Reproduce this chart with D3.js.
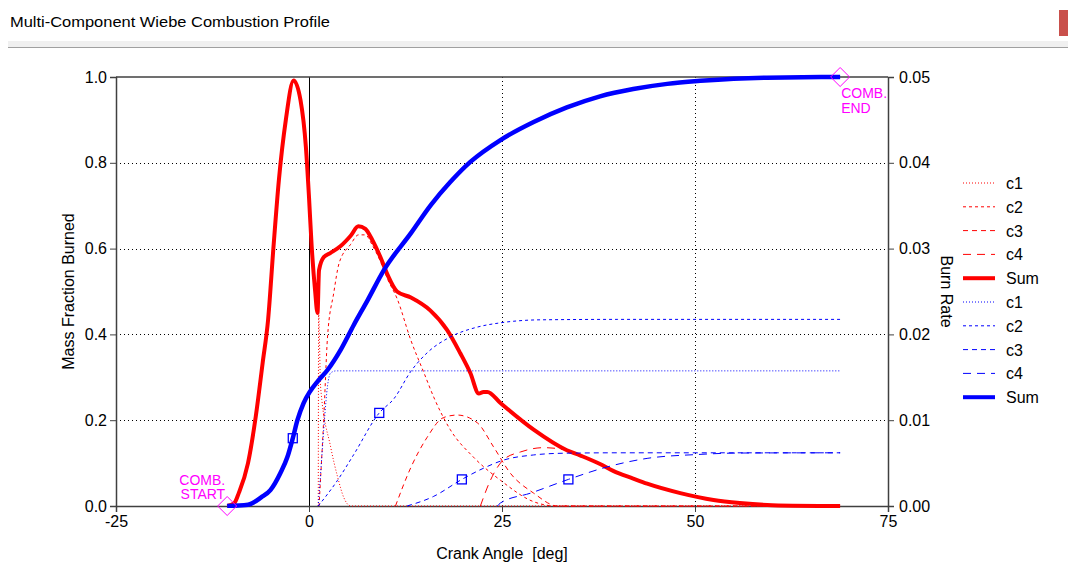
<!DOCTYPE html>
<html>
<head>
<meta charset="utf-8">
<script src="https://cdn.jsdelivr.net/npm/d3@7"></script>
<style>
  html, body { margin: 0; padding: 0; background: #ffffff; }
  svg { display: block; }
  text { font-family: "Liberation Sans", Arial, sans-serif; white-space: pre; }
</style>
</head>
<body>
<svg id="chart" width="1068" height="579"></svg>
<script>
// ---------------- DATA ----------------
const chartTitle = "Multi-Component Wiebe Combustion Profile";
const xTicks = [-25, 0, 25, 50, 75];
const xTickLabels = ["-25", "0", "25", "50", "75"];
const yLeftTicks = [0, 0.2, 0.4, 0.6, 0.8, 1.0];
const yLeftTickLabels = ["0.0", "0.2", "0.4", "0.6", "0.8", "1.0"];
const yRightTicks = [0, 0.01, 0.02, 0.03, 0.04, 0.05];
const yRightTickLabels = ["0.00", "0.01", "0.02", "0.03", "0.04", "0.05"];
const legendLabels = ["c1", "c2", "c3", "c4", "Sum", "c1", "c2", "c3", "c4", "Sum"];

// Burn rate (right axis) – [crank angle deg, rate]
const rateSum = [
  [-10.6, 0], [-9.7, 0.0003], [-9.1, 0.0015], [-7.9, 0.005], [-6.9, 0.0104], [-6.0, 0.0167],
  [-5.3, 0.0217], [-4.6, 0.0302], [-3.9, 0.038], [-3.0, 0.045], [-2.0, 0.0496], [-1.1, 0.0473],
  [-0.4, 0.0418], [0.0, 0.036], [0.35, 0.0302], [0.8, 0.025], [1.1, 0.0225], [1.3, 0.0275],
  [1.9, 0.029], [2.8, 0.0295], [4.1, 0.0303], [5.4, 0.0315], [6.4, 0.0326], [7.3, 0.0323],
  [8.2, 0.031], [9.3, 0.0289], [10.2, 0.0269], [11.4, 0.025], [13.2, 0.0243], [15.7, 0.0228],
  [17.9, 0.0205], [19.6, 0.0178], [20.9, 0.0155], [22.0, 0.0131], [22.6, 0.0133], [23.1, 0.0133],
  [24.8, 0.012], [29.1, 0.0089], [33.4, 0.0065], [35.1, 0.0059], [37.7, 0.0049], [39.4, 0.0041],
  [42.0, 0.0032], [43.8, 0.0026], [48.1, 0.0015], [52.4, 0.0007], [55.8, 0.00035], [60.0, 0.0001],
  [68.8, 0]
];
const rateC1 = [
  [1.2, 0], [1.25, 0.0225], [1.5, 0.0139], [2.8, 0.0069], [3.7, 0.0034], [4.5, 0.001],
  [5.4, 0], [68.8, 0]
];
const rateC2 = [
  [1.3, 0], [1.9, 0.01], [2.4, 0.0197], [3.2, 0.0248], [3.9, 0.0283], [5.4, 0.0305],
  [6.4, 0.0316], [7.3, 0.0316], [8.2, 0.0304], [9.3, 0.0284], [10.2, 0.0264], [11.4, 0.0242],
  [13.2, 0.0193], [14.9, 0.0155], [16.2, 0.0126], [18.3, 0.0089], [21.3, 0.0057], [24.8, 0.003],
  [29.1, 0.0005], [32.0, 0], [68.8, 0]
];
const rateC3 = [
  [11.2, 0], [13.2, 0.0045], [15.3, 0.008], [17.4, 0.0103], [19.2, 0.0106], [21.8, 0.0097],
  [23.9, 0.0069], [26.1, 0.0038], [29.1, 0.0015], [32.2, 0], [68.8, 0]
];
const rateC4 = [
  [22.2, 0], [23.5, 0.003], [25.2, 0.0054], [27.4, 0.0063], [30.4, 0.0068], [33.4, 0.0065],
  [35.1, 0.0059], [37.7, 0.0049], [39.4, 0.0041], [42.0, 0.0032], [43.8, 0.0026], [48.1, 0.0015],
  [52.4, 0.0007], [55.8, 0.00035], [60.0, 0.0001], [68.8, 0]
];

// Mass fraction burned (left axis) – [crank angle deg, fraction]
const mfbSum = [
  [-10.6, 0], [-7.9, 0.003], [-6.2, 0.02], [-5.0, 0.037], [-3.7, 0.077], [-2.8, 0.114],
  [-2.1, 0.158], [-1.5, 0.2], [-0.7, 0.24], [0.1, 0.266], [1.1, 0.29], [2.4, 0.317],
  [4.1, 0.364], [5.8, 0.422], [7.6, 0.48], [9.7, 0.55], [13.2, 0.636], [15.8, 0.702],
  [18.3, 0.755], [20.9, 0.802], [24.8, 0.853], [29.1, 0.895], [33.4, 0.929], [37.7, 0.955],
  [42.0, 0.972], [46.4, 0.984], [50.7, 0.991], [55.0, 0.996], [59.3, 0.9985], [68.8, 1.0]
];
const mfbC1 = [
  [1.2, 0], [1.6, 0.1], [2.0, 0.2], [2.4, 0.28], [2.8, 0.31], [3.5, 0.315], [68.8, 0.315]
];
const mfbC2 = [
  [1.2, 0], [3.7, 0.06], [5.8, 0.12], [9.1, 0.217], [11.0, 0.25], [13.2, 0.314], [15.3, 0.357],
  [18.3, 0.394], [21.8, 0.417], [24.8, 0.427], [30.0, 0.434], [40.0, 0.435], [68.8, 0.435]
];
const mfbC3 = [
  [12.7, 0], [16.1, 0.022], [19.8, 0.062], [22.6, 0.088], [25.2, 0.107], [29.1, 0.119],
  [33.0, 0.123], [40.0, 0.124], [68.8, 0.124]
];
const mfbC4 = [
  [24.4, 0], [24.8, 0.007], [28.7, 0.03], [33.6, 0.062], [38.6, 0.091], [43.8, 0.111],
  [50.3, 0.12], [55.9, 0.1235], [68.8, 0.124]
];
const mfbMarkers = [[-2.1, 0.158], [9.1, 0.217], [19.8, 0.062], [33.6, 0.062]];
const combStart = [-10.6, 0];
const combEnd = [68.8, 1.0];

// ---------------- CHART ----------------
const svg = d3.select("#chart");
const plot = { left: 116, right: 888, top: 77, bottom: 506 };
const x = d3.scaleLinear().domain([-25, 75]).range([plot.left, plot.right]);
const yL = d3.scaleLinear().domain([0, 1]).range([plot.bottom, plot.top]);
const yR = d3.scaleLinear().domain([0, 0.05]).range([plot.bottom, plot.top]);

// Window header
svg.append("text").attr("x", 10).attr("y", 27).text(chartTitle)
  .attr("font-family", "'Open Sans', 'Noto Sans', sans-serif").attr("font-size", 15)
  .attr("textLength", 320).attr("lengthAdjust", "spacingAndGlyphs").attr("fill", "#000");
svg.append("rect").attr("x", 8).attr("y", 41).attr("width", 1060).attr("height", 6).attr("fill", "#f0f0f0");
svg.append("line").attr("x1", 8).attr("x2", 1068).attr("y1", 47.5).attr("y2", 47.5).attr("stroke", "#a0a0a0");
svg.append("rect").attr("x", 1059).attr("y", 10).attr("width", 9).attr("height", 26).attr("fill", "#c9504b");

// Grid
const grid = svg.append("g");
grid.selectAll("line.h").data([0.2, 0.4, 0.6, 0.8]).join("line")
  .attr("x1", plot.left).attr("x2", plot.right)
  .attr("y1", d => Math.round(yL(d)) + 0.5).attr("y2", d => Math.round(yL(d)) + 0.5)
  .attr("stroke", "#000").attr("stroke-dasharray", "1,3");
grid.selectAll("line.v").data([25, 50]).join("line")
  .attr("y1", plot.top).attr("y2", plot.bottom)
  .attr("x1", d => Math.round(x(d)) + 0.5).attr("x2", d => Math.round(x(d)) + 0.5)
  .attr("stroke", "#000").attr("stroke-dasharray", "1,3");
// zero crank angle line
svg.append("line").attr("x1", Math.round(x(0)) + 0.5).attr("x2", Math.round(x(0)) + 0.5)
  .attr("y1", plot.top).attr("y2", plot.bottom).attr("stroke", "#000").attr("stroke-width", 1);

// Axes
const fontSize = 16;
const axB = svg.append("g").attr("transform", `translate(0,${plot.bottom})`)
  .call(d3.axisBottom(x).tickValues(xTicks).tickSizeOuter(0).tickSize(6).tickPadding(4)
    .tickFormat((d, i) => xTickLabels[i]));
const axL = svg.append("g").attr("transform", `translate(${plot.left},0)`)
  .call(d3.axisLeft(yL).tickValues(yLeftTicks).tickSizeOuter(0).tickSize(6).tickPadding(3)
    .tickFormat((d, i) => yLeftTickLabels[i]));
const axR = svg.append("g").attr("transform", `translate(${plot.right},0)`)
  .call(d3.axisRight(yR).tickValues(yRightTicks).tickSizeOuter(0).tickSize(6).tickPadding(5)
    .tickFormat((d, i) => yRightTickLabels[i]));
[axB, axL, axR].forEach(a => {
  a.selectAll("text").attr("font-size", fontSize).attr("fill", "#000")
    .attr("font-family", "'Liberation Sans', Arial, sans-serif");
  a.selectAll("path.domain").attr("stroke", "#404040").attr("stroke-width", 1.5);
  a.selectAll(".tick line").attr("stroke", "#404040");
});
// top border
svg.append("line").attr("x1", plot.left).attr("x2", plot.right).attr("y1", plot.top).attr("y2", plot.top)
  .attr("stroke", "#404040").attr("stroke-width", 1.5);

// Axis titles
svg.append("text").attr("x", (plot.left + plot.right) / 2).attr("y", 559).attr("text-anchor", "middle")
  .attr("font-size", fontSize).text("Crank Angle  [deg]");
svg.append("text").attr("transform", `translate(74,${(plot.top + plot.bottom) / 2}) rotate(-90)`)
  .attr("text-anchor", "middle").attr("font-size", fontSize).text("Mass Fraction Burned");
svg.append("text").attr("transform", `translate(941,${(plot.top + plot.bottom) / 2}) rotate(90)`)
  .attr("text-anchor", "middle").attr("font-size", fontSize).text("Burn Rate");

// Clip
svg.append("clipPath").attr("id", "clip").append("rect")
  .attr("x", plot.left).attr("y", plot.top - 4).attr("width", plot.right - plot.left).attr("height", plot.bottom - plot.top + 6);
const lines = svg.append("g").attr("clip-path", "url(#clip)");

const dashes = ["1,2", "3,3", "5,4", "8,6", null];
const rateSeries = [rateC1, rateC2, rateC3, rateC4, rateSum];
const mfbSeries = [mfbC1, mfbC2, mfbC3, mfbC4, mfbSum];

const lineR = d3.line().x(d => x(d[0])).y(d => yR(d[1])).curve(d3.curveMonotoneX);
const lineL = d3.line().x(d => x(d[0])).y(d => yL(d[1])).curve(d3.curveMonotoneX);

rateSeries.forEach((s, i) => {
  lines.append("path").attr("d", lineR(s)).attr("fill", "none").attr("stroke", "#ff0000")
    .attr("stroke-width", i === 4 ? 4 : 1).attr("stroke-dasharray", dashes[i]).attr("stroke-linejoin", "round");
});
mfbSeries.forEach((s, i) => {
  lines.append("path").attr("d", lineL(s)).attr("fill", "none").attr("stroke", "#0000ff")
    .attr("stroke-width", i === 4 ? 4.5 : 1).attr("stroke-dasharray", dashes[i]).attr("stroke-linejoin", "round");
});

// Markers
svg.append("g").selectAll("rect").data(mfbMarkers).join("rect")
  .attr("x", d => x(d[0]) - 4.5).attr("y", d => yL(d[1]) - 4.5).attr("width", 9).attr("height", 9)
  .attr("fill", "none").attr("stroke", "#0000ff").attr("stroke-width", 1.3);

// COMB start / end diamonds
const diamond = d3.symbol().type(d3.symbolDiamond2).size(230);
[combStart, combEnd].forEach(p => {
  svg.append("path").attr("d", diamond()).attr("transform", `translate(${x(p[0])},${yL(p[1])})`)
    .attr("fill", "none").attr("stroke", "#ff00ff").attr("stroke-width", 1);
});
const magenta = "#ff00ff";
svg.append("text").attr("x", x(combStart[0]) - 2).attr("y", 485).attr("text-anchor", "end")
  .attr("font-size", 14).attr("fill", magenta).text("COMB.");
svg.append("text").attr("x", x(combStart[0]) - 2).attr("y", 499).attr("text-anchor", "end")
  .attr("font-size", 14).attr("fill", magenta).text("START");
svg.append("text").attr("x", x(combEnd[0]) + 1).attr("y", 98).attr("font-size", 14).attr("fill", magenta).text("COMB.");
svg.append("text").attr("x", x(combEnd[0]) + 1).attr("y", 113).attr("font-size", 14).attr("fill", magenta).text("END");

// Legend
const leg = svg.append("g");
legendLabels.forEach((lab, i) => {
  const yy = 183 + i * 23.8;
  const col = i < 5 ? "#ff0000" : "#0000ff";
  const k = i % 5;
  leg.append("line").attr("x1", 963).attr("x2", 995).attr("y1", yy).attr("y2", yy)
    .attr("stroke", col).attr("stroke-width", k === 4 ? 4 : 1).attr("stroke-dasharray", dashes[k]);
  leg.append("text").attr("x", 1006).attr("y", yy + 6).attr("font-size", fontSize).text(lab);
});
</script>
</body>
</html>
